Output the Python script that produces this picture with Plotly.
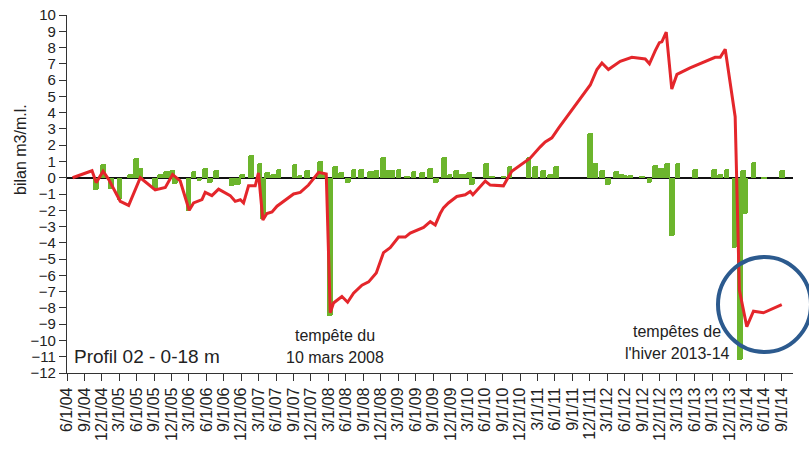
import plotly.graph_objects as go

# ---- cumulative balance (red line) ----
line_dates = [
    "2004-06-30", "2004-10-10", "2004-11-01", "2004-12-07", "2005-01-05", "2005-03-07",
    "2005-04-20", "2005-06-20", "2005-09-06", "2005-10-29", "2005-12-06", "2006-01-15",
    "2006-03-03", "2006-03-26", "2006-05-09", "2006-05-26", "2006-06-30", "2006-08-04",
    "2006-10-04", "2006-10-30", "2006-11-26", "2006-12-13", "2007-01-08", "2007-02-12",
    "2007-03-01", "2007-03-24", "2007-04-14", "2007-05-11", "2007-06-06", "2007-07-19",
    "2007-09-01", "2007-10-06", "2007-11-18", "2008-01-10", "2008-02-19", "2008-03-11",
    "2008-03-28", "2008-05-11", "2008-06-10", "2008-07-11", "2008-08-24", "2008-09-28",
    "2008-11-07", "2008-12-15", "2009-01-19", "2009-03-04", "2009-04-08", "2009-05-04",
    "2009-06-08", "2009-07-13", "2009-08-17", "2009-09-12", "2009-10-08", "2009-10-25",
    "2009-11-20", "2010-01-03", "2010-02-16", "2010-03-14", "2010-03-28", "2010-06-01",
    "2010-06-27", "2010-09-04", "2010-10-18", "2011-01-22", "2011-03-16", "2011-04-11",
    "2011-05-16", "2011-06-20", "2011-12-03", "2012-01-07", "2012-02-02", "2012-03-07",
    "2012-05-08", "2012-07-08", "2012-09-16", "2012-10-08", "2012-11-07", "2012-11-29",
    "2012-12-12", "2013-01-04", "2013-02-02", "2013-03-01", "2013-05-09", "2013-08-05",
    "2013-09-17", "2013-10-14", "2013-11-09", "2013-12-31", "2014-01-22", "2014-03-02",
    "2014-04-06", "2014-05-28", "2014-09-01",
]
line_values = [
    0.0, 0.43, -0.3, 0.4, -0.1, -1.45,
    -1.7, 0.0, -0.75, -0.6, 0.2, -0.2,
    -2.0, -1.55, -1.35, -0.9, -1.1, -0.7,
    -1.1, -1.45, -1.35, -1.55, -0.5, -0.5,
    0.3, -2.6, -2.2, -2.1, -1.75, -1.35,
    -1.0, -0.9, -0.45, 0.33, 0.23, -8.3,
    -7.7, -7.3, -7.65, -7.1, -6.6, -6.4,
    -5.85, -4.6, -4.3, -3.65, -3.65, -3.4,
    -3.2, -3.05, -2.7, -2.9, -2.2, -1.85,
    -1.55, -1.15, -1.05, -0.85, -1.05, -0.2,
    -0.45, -0.5, 0.4, 1.2, 1.9, 2.2,
    2.45, 3.05, 5.7, 6.65, 7.05, 6.65,
    7.15, 7.4, 7.3, 7.0, 7.8, 8.3,
    8.35, 8.95, 5.45, 6.35, 6.75, 7.2,
    7.4, 7.4, 7.9, 3.75, -6.9, -9.15,
    -8.2, -8.3, -7.8,
]

# ---- change between surveys (green bars) ----
bar_dates = [
    "2004-11-01", "2004-12-07", "2005-01-17", "2005-03-03", "2005-04-28", "2005-05-30",
    "2005-06-20", "2005-09-06", "2005-10-03", "2005-11-03", "2005-12-03", "2005-12-20",
    "2006-02-27", "2006-03-26", "2006-04-26", "2006-05-26", "2006-06-21", "2006-07-23",
    "2006-10-13", "2006-11-15", "2006-12-06", "2007-01-22", "2007-03-07", "2007-03-24",
    "2007-04-14", "2007-05-16", "2007-06-14", "2007-09-06", "2007-10-02", "2007-11-10",
    "2008-01-19", "2008-02-08", "2008-03-11", "2008-04-06", "2008-05-08", "2008-06-10",
    "2008-07-11", "2008-08-20", "2008-10-06", "2008-11-07", "2008-12-12", "2009-01-02",
    "2009-01-28", "2009-03-04", "2009-04-17", "2009-05-21", "2009-07-04", "2009-08-17",
    "2009-09-14", "2009-10-29", "2009-11-26", "2009-12-29", "2010-01-24", "2010-02-21",
    "2010-03-09", "2010-03-23", "2010-06-04", "2010-07-06", "2010-09-04", "2010-10-06",
    "2011-01-13", "2011-02-18", "2011-03-30", "2011-05-07", "2011-06-07", "2011-12-02",
    "2011-12-29", "2012-02-02", "2012-03-04", "2012-04-14", "2012-05-11", "2012-05-29",
    "2012-06-29", "2012-08-29", "2012-10-08", "2012-11-07", "2012-11-19", "2012-12-07",
    "2013-01-07", "2013-02-02", "2013-03-04", "2013-06-05", "2013-09-13", "2013-10-14",
    "2013-11-15", "2013-12-27", "2014-01-27", "2014-02-10", "2014-02-23", "2014-04-06",
    "2014-06-01", "2014-09-01",
]
bar_values = [
    -0.76, 0.82, -0.68, -1.34, 0.25, 1.23,
    0.6, -0.72, 0.2, 0.4, 0.5, -0.4,
    -2.05, 0.4, -0.2, 0.6, -0.3, 0.47,
    -0.5, -0.47, 0.25, 1.4, 0.92, -2.55,
    0.35, 0.25, 0.55, 0.85, 0.15, 0.45,
    1.05, 0.15, -8.5, 0.7, 0.35, -0.3,
    0.55, 0.55, 0.4, 0.5, 1.3, 0.45,
    0.45, 0.55, 0.1, 0.4, 0.35, 0.6,
    -0.3, 1.3, 0.25, 0.5, 0.25, 0.25,
    0.35, -0.45, 0.9, 0.1, 0.1, 0.7,
    1.3, 0.7, 0.5, 0.25, 0.75, 2.75,
    0.9, 0.5, -0.45, 0.4, 0.2, 0.15,
    0.15, 0.1, -0.3, 0.8, 0.6, 0.6,
    0.9, -3.55, 0.9, 0.55, 0.55, 0.2,
    0.55, -4.3, -11.2, 0.5, -2.25, 0.95,
    -0.1, 0.45,
]

tick_dates = [
    "2004-06-01", "2004-09-01", "2004-12-01",
    "2005-03-01", "2005-06-01", "2005-09-01", "2005-12-01",
    "2006-03-01", "2006-06-01", "2006-09-01", "2006-12-01",
    "2007-03-01", "2007-06-01", "2007-09-01", "2007-12-01",
    "2008-03-01", "2008-06-01", "2008-09-01", "2008-12-01",
    "2009-03-01", "2009-06-01", "2009-09-01", "2009-12-01",
    "2010-03-01", "2010-06-01", "2010-09-01", "2010-12-01",
    "2011-03-01", "2011-06-01", "2011-09-01", "2011-12-01",
    "2012-03-01", "2012-06-01", "2012-09-01", "2012-12-01",
    "2013-03-01", "2013-06-01", "2013-09-01", "2013-12-01",
    "2014-03-01", "2014-06-01", "2014-09-01",
]
tick_labels = [
    "6/1/04", "9/1/04", "12/1/04",
    "3/1/05", "6/1/05", "9/1/05", "12/1/05",
    "3/1/06", "6/1/06", "9/1/06", "12/1/06",
    "3/1/07", "6/1/07", "9/1/07", "12/1/07",
    "3/1/08", "6/1/08", "9/1/08", "12/1/08",
    "3/1/09", "6/1/09", "9/1/09", "12/1/09",
    "3/1/10", "6/1/10", "9/1/10", "12/1/10",
    "3/1/11", "6/1/11", "9/1/11", "12/1/11",
    "3/1/12", "6/1/12", "9/1/12", "12/1/12",
    "3/1/13", "6/1/13", "9/1/13", "12/1/13",
    "3/1/14", "6/1/14", "9/1/14",
]
y_ticks = list(range(-12, 11))

FONT = "Liberation Sans, Arial, sans-serif"
GREEN = "#6cb52d"
RED = "#e4262b"

PL, PR, PT, PB = 67, 793, 15, 373  # plot area in window pixels

fig = go.Figure()
fig.add_trace(go.Bar(
    x=bar_dates, y=bar_values,
    width=2.6e9,
    marker=dict(color=GREEN, line=dict(width=0), cornerradius=2),
    showlegend=False,
))
fig.add_trace(go.Scatter(
    x=line_dates, y=line_values, mode="lines",
    line=dict(color=RED, width=3),
    showlegend=False,
))

fig.update_layout(
    width=809, height=450,
    margin=dict(l=PL, r=809 - PR, t=PT, b=450 - PB, autoexpand=False),
    plot_bgcolor="white", paper_bgcolor="white",
    font=dict(family=FONT, color="#222222"),
    bargap=0,
    xaxis=dict(
        type="date",
        range=["2004-06-01", "2014-10-30"],
        tickvals=tick_dates, ticktext=tick_labels,
        tickangle=-90,
        tickfont=dict(size=16, family=FONT, color="#222222"),
        ticks="outside", ticklen=7, tickwidth=1.2, tickcolor="#333333",
        showline=True, linecolor="#333333", linewidth=1.2,
        showgrid=False, zeroline=False, automargin=False,
    ),
    yaxis=dict(
        range=[-12, 10],
        tickvals=y_ticks,
        tickfont=dict(size=15, family=FONT, color="#222222"),
        ticks="outside", ticklen=7, tickwidth=1.2, tickcolor="#333333",
        showline=True, linecolor="#333333", linewidth=1.2,
        showgrid=False, automargin=False,
        zeroline=True, zerolinecolor="#111111", zerolinewidth=1.6,
    ),
)

def px_x(p):
    return (p - PL) / float(PR - PL)

def px_y(p):
    return (PB - p) / float(PB - PT)

annots = [
    dict(text="bilan m3/m.l.", x=px_x(20), y=px_y(150), textangle=-90, size=16),
    dict(text="tempête du", x=px_x(335), y=px_y(335), size=16),
    dict(text="10 mars 2008", x=px_x(335), y=px_y(357), size=16),
    dict(text="tempêtes de", x=px_x(677), y=px_y(331), size=16),
    dict(text="l'hiver 2013-14", x=px_x(677), y=px_y(353), size=16),
]
for a in annots:
    fig.add_annotation(
        text=a["text"], x=a["x"], y=a["y"], xref="paper", yref="paper",
        xanchor="center", yanchor="middle", showarrow=False,
        textangle=a.get("textangle", 0),
        font=dict(size=a["size"], family=FONT, color="#222222"),
    )
fig.add_annotation(
    text="Profil 02 - 0-18 m", x=px_x(72), y=px_y(356), xref="paper", yref="paper",
    xanchor="left", yanchor="middle", showarrow=False,
    font=dict(size=19, family=FONT, color="#222222"),
)

fig.add_shape(
    type="circle", xref="paper", yref="paper",
    x0=px_x(718), x1=px_x(811), y0=px_y(352), y1=px_y(257),
    line=dict(color="#2c5a8e", width=4), fillcolor="rgba(0,0,0,0)",
)

fig.write_html(
    "out.html",
    config={"displayModeBar": False},
    post_script="document.body.style.margin='0';document.body.style.overflow='hidden';",
)
